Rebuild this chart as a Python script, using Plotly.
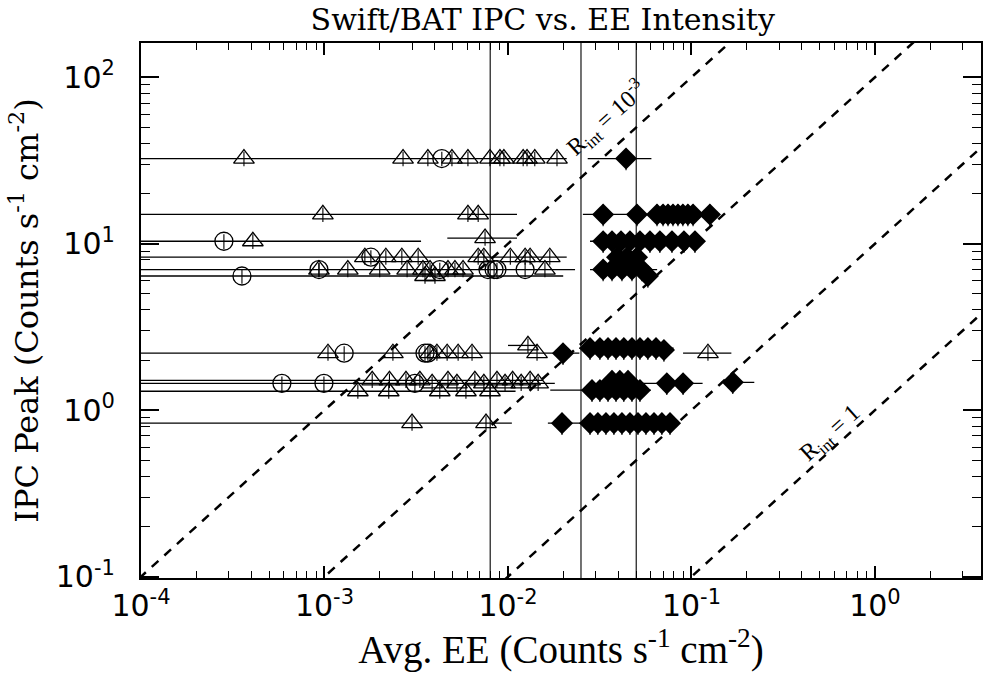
import plotly.graph_objects as go

# ---------------- data ----------------
# open triangles
tri_x = [3.64e-4, 2.68e-3, 3.66e-3, 4.95e-3, 6.05e-3, 7.98e-3, 9.04e-3, 9.5e-3, 1.21e-2, 1.27e-2, 1.40e-2, 1.85e-2,
         9.8e-4, 6.05e-3, 6.88e-3,
         4.07e-4, 7.5e-3,
         1.66e-3, 2.16e-3, 2.64e-3, 3.24e-3, 6.88e-3, 7.39e-3, 1.03e-2, 1.24e-2, 1.32e-2, 1.69e-2,
         9.33e-4, 1.34e-3, 2.0e-3, 2.82e-3, 3.44e-3, 3.76e-3, 4.71e-3, 5.14e-3, 5.69e-3, 1.59e-2,
         3.53e-3, 4.0e-3,
         1.045e-3, 2.36e-3, 3.76e-3, 4.1e-3, 4.66e-3, 5.35e-3, 6.37e-3, 1.44e-2, 1.285e-2, 0.123,
         1.52e-3, 2.24e-3, 1.82e-3, 2.26e-3, 2.78e-3, 3.31e-3,
         3.86e-3, 4.25e-3, 4.71e-3, 5.27e-3, 5.9e-3, 6.6e-3, 7.39e-3, 7.98e-3, 8.71e-3, 9.64e-3, 1.06e-2, 1.18e-2, 1.32e-2, 1.46e-2,
         3.0e-3, 7.59e-3]
tri_y = [32.5, 32.5, 32.5, 32.5, 32.5, 32.5, 32.5, 32.5, 32.5, 32.5, 32.5, 32.5,
         15.0, 15.0, 15.0,
         10.35, 10.8,
         8.3, 8.3, 8.3, 8.3, 8.3, 8.3, 8.3, 8.3, 8.3, 8.3,
         7.0, 7.0, 7.0, 7.0, 7.0, 7.0, 7.0, 7.0, 7.0, 7.0,
         6.4, 6.4,
         2.2, 2.2, 2.2, 2.2, 2.2, 2.2, 2.2, 2.2, 2.45, 2.2,
         1.30, 1.30, 1.51, 1.51, 1.51, 1.51,
         1.45, 1.30, 1.51, 1.45, 1.30, 1.51, 1.45, 1.30, 1.51, 1.45, 1.51, 1.45, 1.51, 1.45,
         0.836, 0.836]

# open circles
circ_x = [4.36e-3, 2.83e-4, 1.79e-3,
          9.33e-4, 4.25e-3, 7.78e-3, 8.4e-3, 8.71e-3, 1.24e-2,
          3.55e-4,
          1.28e-3, 3.53e-3, 3.66e-3,
          5.86e-4, 9.93e-4, 3.11e-3]
circ_y = [32.5, 10.35, 8.3,
          7.0, 7.0, 7.0, 7.0, 7.0, 7.0,
          6.4,
          2.2, 2.2, 2.2,
          1.45, 1.45, 1.45]

# filled diamonds
dia_x = [0.044,
         0.033, 0.0505, 0.0649, 0.070, 0.0745, 0.0793, 0.0844, 0.0898, 0.0956, 0.102, 0.126,
         0.033, 0.0369, 0.0413, 0.0462, 0.0524, 0.0594, 0.0673, 0.0783, 0.091, 0.1045,
         0.0393, 0.0446, 0.0505,
         0.033, 0.0369, 0.0418, 0.0474, 0.0537,
         0.0579,
         0.01995, 0.028, 0.0317, 0.0351, 0.0388, 0.0428, 0.0474, 0.0524, 0.0579, 0.0641, 0.0708,
         0.0287, 0.0317, 0.0351, 0.0388, 0.0428, 0.0474, 0.0524, 0.0369, 0.0407, 0.0451, 0.0734, 0.090, 0.168,
         0.0197, 0.028, 0.0309, 0.0342, 0.0378, 0.0418, 0.0462, 0.0511, 0.0565, 0.0625, 0.069, 0.0764]
dia_y = [32.5,
         15.0, 15.0, 15.0, 15.0, 15.0, 15.0, 15.0, 15.0, 15.0, 15.0, 15.0,
         10.35, 10.35, 10.35, 10.35, 10.35, 10.35, 10.35, 10.35, 10.35, 10.35,
         8.3, 8.3, 8.3,
         7.0, 7.0, 7.0, 7.0, 7.0,
         6.4,
         2.2, 2.36, 2.36, 2.36, 2.36, 2.36, 2.36, 2.36, 2.36, 2.36, 2.3,
         1.32, 1.32, 1.32, 1.32, 1.32, 1.32, 1.32, 1.50, 1.50, 1.50, 1.45, 1.45, 1.47,
         0.836, 0.836, 0.836, 0.836, 0.836, 0.836, 0.836, 0.836, 0.836, 0.836, 0.836, 0.836]

# horizontal error-bar segments: level, low, high
seg_y  = [32.5, 32.5, 15.0, 15.0, 10.35, 10.8, 10.35, 8.3, 7.0, 7.0, 6.4,
          2.2, 2.45, 2.2, 2.36, 2.2,
          1.51, 1.45, 1.30, 1.32, 1.45, 1.47,
          0.836, 0.836]
seg_lo = [1e-5, 0.0272, 1e-5, 0.0256, 1e-5, 4.67e-3, 0.028, 1e-5, 1e-5, 0.028, 1e-5,
          1e-5, 0.010, 0.0145, 0.0245, 0.090,
          1e-5, 1e-5, 1e-5, 0.017, 0.050, 0.145,
          1e-5, 0.0165]
seg_hi = [0.0209, 0.0605, 0.0112, 0.143, 3.36e-3, 1.12e-2, 0.112, 0.0209, 0.0232, 0.065, 0.020,
          0.0145, 0.0145, 0.0245, 0.080, 0.165,
          0.0155, 0.018, 0.011, 0.060, 0.115, 0.22,
          0.0105, 0.085]

# vertical reference lines (EE levels)
vline_x = [0.008, 0.025, 0.05]

# constant-ratio lines R_int = EE / IPC
rint_vals = [1e-3, 1e-2, 1e-1, 1.0]

x_tickvals = [1e-4, 1e-3, 1e-2, 1e-1, 1.0]
x_ticktext = ["10<sup>-4</sup>", "10<sup>-3</sup>", "10<sup>-2</sup>", "10<sup>-1</sup>", "10<sup>0</sup>"]
y_tickvals = [0.1, 1.0, 10.0, 100.0]
y_ticktext = ["10<sup>-1</sup>", "10<sup>0</sup>", "10<sup>1</sup>", "10<sup>2</sup>"]

# ---------------- figure ----------------
fig = go.Figure()

# horizontal segments
sx, sy = [], []
for y, lo, hi in zip(seg_y, seg_lo, seg_hi):
    sx += [lo, hi, None]
    sy += [y, y, None]
fig.add_trace(go.Scatter(x=sx, y=sy, mode="lines", line=dict(color="black", width=1.3),
                         hoverinfo="skip", showlegend=False))

# dashed R_int lines
for r in rint_vals:
    xs = [1e-6, 1e2]
    fig.add_trace(go.Scatter(x=xs, y=[v / r for v in xs], mode="lines",
                             line=dict(color="black", width=2.5, dash="9px,8px"),
                             hoverinfo="skip", showlegend=False))

# vertical lines
for v in vline_x:
    fig.add_trace(go.Scatter(x=[v, v], y=[0.01, 1000], mode="lines",
                             line=dict(color="black", width=1.1),
                             hoverinfo="skip", showlegend=False))

fig.add_trace(go.Scatter(x=tri_x, y=tri_y, mode="markers",
                         marker=dict(symbol="triangle-up-open", size=18, color="black", line=dict(width=1.3)),
                         error_y=dict(type="percent", value=10, width=0, thickness=1.1, color="black"),
                         showlegend=False))
fig.add_trace(go.Scatter(x=circ_x, y=circ_y, mode="markers",
                         marker=dict(symbol="circle-open", size=18, color="black", line=dict(width=1.3)),
                         error_y=dict(type="percent", value=10, width=0, thickness=1.1, color="black"),
                         showlegend=False))
fig.add_trace(go.Scatter(x=dia_x, y=dia_y, mode="markers",
                         marker=dict(symbol="diamond", size=17, color="black", line=dict(width=0)),
                         error_y=dict(type="percent", value=15, width=0, thickness=1.1, color="black"),
                         showlegend=False))

fig.add_annotation(x=-1.462, y=1.754, xref="x", yref="y",
                   text="R<sub>int</sub> = 10<sup>-3</sup>", showarrow=False, textangle=-42,
                   font=dict(family="Liberation Serif", size=24, color="black"))
fig.add_annotation(x=-0.24, y=-0.140, xref="x", yref="y",
                   text="R<sub>int</sub> = 1", showarrow=False, textangle=-42,
                   font=dict(family="Liberation Serif", size=24, color="black"))

x_minor = [k * 10.0 ** d for d in range(-4, 1) for k in range(2, 10)]
y_minor = [k * 10.0 ** d for d in range(-1, 3) for k in range(2, 10)]

axis_common = dict(type="log", showgrid=False, zeroline=False, showline=True, linecolor="black",
                   linewidth=2.2, mirror="allticks", ticks="inside", tickcolor="black", tickwidth=1.6,
                   tickmode="array", automargin=False)

fig.update_xaxes(**axis_common, range=[-4, 0.578], tickvals=x_tickvals, ticktext=x_ticktext, ticklen=12,
                 minor=dict(tickmode="array", tickvals=x_minor, ticks="inside", ticklen=7, tickwidth=1.4,
                            tickcolor="black", showgrid=False),
                 tickfont=dict(family="DejaVu Sans", size=30, color="black"),
                 title=dict(text="Avg. EE (Counts s<sup>-1</sup> cm<sup>-2</sup>)",
                            font=dict(family="Liberation Serif", size=39, color="black"), standoff=4))
fig.update_yaxes(**axis_common, range=[-1.008, 2.206], tickvals=y_tickvals, ticktext=y_ticktext, ticklen=18,
                 minor=dict(tickmode="array", tickvals=y_minor, ticks="inside", ticklen=9, tickwidth=1.4,
                            tickcolor="black", showgrid=False),
                 tickfont=dict(family="DejaVu Sans", size=30, color="black"), ticklabelstandoff=18,
                 title=dict(text="IPC Peak (Counts s<sup>-1</sup> cm<sup>-2</sup>)",
                            font=dict(family="DejaVu Serif", size=32, color="black"), standoff=8))

fig.update_layout(width=985, height=673, margin=dict(l=141, r=4, t=43, b=95),
                  paper_bgcolor="white", plot_bgcolor="white",
                  title=dict(text="Swift/BAT IPC vs. EE Intensity", x=0.551, xanchor="center", y=0.971,
                             yanchor="middle", font=dict(family="DejaVu Serif", size=30, color="black")))

fig.write_html("out.html", config={"responsive": False, "displayModeBar": False},
               post_script="document.body.style.margin='0px';document.body.style.overflow='hidden';")
